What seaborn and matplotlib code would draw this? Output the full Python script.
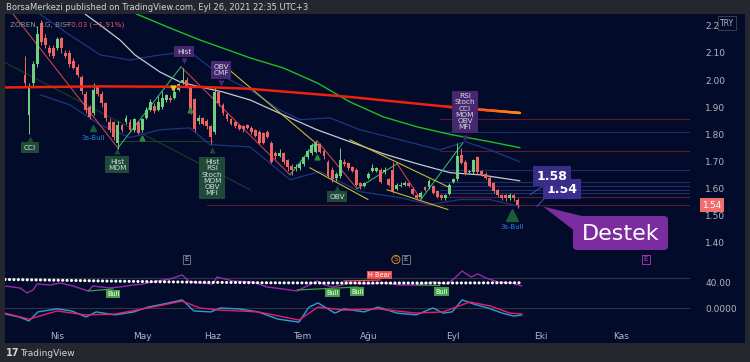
import numpy as np
import pandas as pd
import matplotlib
matplotlib.use("Agg")
import matplotlib.pyplot as plt
import seaborn as sns
from matplotlib.patches import Rectangle, FancyBboxPatch, Polygon
from matplotlib.collections import LineCollection

# ---------------- data ----------------
opens = [2.02, 1.87, 1.99, 2.06, 2.21, 2.155, 2.12, 2.12, 2.12, 2.155,
         2.10, 2.10, 2.07, 2.05, 2.01, 1.95, 1.90, 1.88, 1.975, 1.95,
         1.915, 1.845, 1.845, 1.77, 1.835, 1.845, 1.845, 1.815, 1.845, 1.815,
         1.86, 1.89, 1.905, 1.89, 1.90, 1.925, 1.935, 1.935, 1.965, 1.99,
         2.00, 1.97, 1.93, 1.85, 1.86, 1.85, 1.83, 1.81, 1.955, 1.91,
         1.875, 1.855, 1.845, 1.835, 1.83, 1.835, 1.825, 1.815, 1.81, 1.805,
         1.81, 1.77, 1.73, 1.72, 1.73, 1.705, 1.685, 1.675, 1.675, 1.69,
         1.715, 1.73, 1.735, 1.765, 1.74, 1.70, 1.67, 1.64, 1.645, 1.70,
         1.695, 1.68, 1.67, 1.62, 1.61, 1.64, 1.665, 1.665, 1.67, 1.66,
         1.635, 1.67, 1.60, 1.61, 1.615, 1.62, 1.60, 1.575, 1.57, 1.605,
         1.605, 1.61, 1.59, 1.575, 1.565, 1.58, 1.625, 1.635, 1.725, 1.70,
         1.66, 1.66, 1.715, 1.665, 1.655, 1.64, 1.62, 1.595, 1.575, 1.575,
         1.565, 1.575, 1.56]
closes = [1.99, 1.98, 2.06, 2.17, 2.14, 2.13, 2.10, 2.09, 2.15, 2.12,
          2.09, 2.06, 2.045, 2.02, 1.96, 1.89, 1.865, 1.965, 1.95, 1.915,
          1.86, 1.815, 1.79, 1.835, 1.815, 1.86, 1.815, 1.855, 1.805, 1.855,
          1.89, 1.92, 1.885, 1.92, 1.935, 1.945, 1.925, 1.955, 1.985, 2.00,
          1.975, 1.88, 1.82, 1.86, 1.84, 1.83, 1.79, 1.955, 1.915, 1.88,
          1.855, 1.84, 1.83, 1.82, 1.82, 1.825, 1.81, 1.795, 1.77, 1.77,
          1.79, 1.70, 1.72, 1.73, 1.70, 1.68, 1.67, 1.68, 1.69, 1.715,
          1.74, 1.76, 1.77, 1.735, 1.72, 1.645, 1.635, 1.655, 1.705, 1.69,
          1.675, 1.665, 1.615, 1.61, 1.62, 1.655, 1.675, 1.675, 1.625, 1.67,
          1.615, 1.59, 1.615, 1.615, 1.62, 1.61, 1.58, 1.565, 1.585, 1.595,
          1.63, 1.585, 1.57, 1.565, 1.575, 1.615, 1.635, 1.72, 1.695, 1.655,
          1.665, 1.705, 1.66, 1.65, 1.64, 1.61, 1.59, 1.575, 1.565, 1.565,
          1.575, 1.565, 1.54]
highs = [2.09, 1.99, 2.07, 2.20, 2.22, 2.17, 2.13, 2.13, 2.16, 2.16,
         2.11, 2.11, 2.08, 2.06, 2.02, 1.96, 1.91, 1.99, 1.98, 1.96,
         1.92, 1.86, 1.85, 1.85, 1.84, 1.87, 1.855, 1.86, 1.85, 1.86,
         1.90, 1.93, 1.915, 1.94, 1.96, 1.95, 1.945, 1.965, 1.99, 2.045,
         2.01, 1.975, 1.935, 1.87, 1.865, 1.855, 1.835, 1.975, 1.96, 1.915,
         1.88, 1.86, 1.85, 1.84, 1.835, 1.84, 1.83, 1.82, 1.815, 1.81,
         1.815, 1.775, 1.74, 1.745, 1.735, 1.71, 1.69, 1.69, 1.70, 1.72,
         1.745, 1.77, 1.775, 1.77, 1.745, 1.705, 1.68, 1.66, 1.75, 1.71,
         1.70, 1.685, 1.675, 1.625, 1.625, 1.66, 1.69, 1.68, 1.675, 1.68,
         1.64, 1.70, 1.62, 1.625, 1.63, 1.625, 1.605, 1.58, 1.59, 1.61,
         1.635, 1.615, 1.595, 1.58, 1.58, 1.62, 1.64, 1.77, 1.75, 1.705,
         1.67, 1.71, 1.72, 1.67, 1.66, 1.645, 1.625, 1.60, 1.58, 1.58,
         1.585, 1.58, 1.565]
lows = [1.98, 1.80, 1.98, 2.05, 2.13, 2.12, 2.09, 2.08, 2.11, 2.10,
        2.08, 2.05, 2.04, 2.01, 1.95, 1.88, 1.855, 1.87, 1.94, 1.90,
        1.85, 1.81, 1.78, 1.745, 1.81, 1.84, 1.81, 1.81, 1.80, 1.81,
        1.855, 1.885, 1.88, 1.885, 1.895, 1.92, 1.92, 1.93, 1.96, 1.985,
        1.97, 1.875, 1.81, 1.84, 1.835, 1.82, 1.765, 1.80, 1.905, 1.87,
        1.85, 1.835, 1.825, 1.815, 1.81, 1.82, 1.80, 1.79, 1.765, 1.765,
        1.785, 1.695, 1.71, 1.715, 1.69, 1.665, 1.65, 1.665, 1.67, 1.685,
        1.71, 1.725, 1.73, 1.73, 1.71, 1.64, 1.625, 1.63, 1.64, 1.685,
        1.67, 1.66, 1.61, 1.60, 1.605, 1.635, 1.66, 1.66, 1.62, 1.655,
        1.61, 1.585, 1.595, 1.605, 1.61, 1.605, 1.575, 1.56, 1.565, 1.59,
        1.60, 1.58, 1.565, 1.56, 1.56, 1.575, 1.62, 1.63, 1.69, 1.65,
        1.655, 1.655, 1.655, 1.645, 1.635, 1.605, 1.585, 1.57, 1.56, 1.555,
        1.56, 1.555, 1.53]

# moving averages / bands (bar index, price)
ma_red_x = [-5, 18.6, 43.3, 55.7, 80.4, 105.2, 122.5]
ma_red_y = [1.973, 1.977, 1.975, 1.968, 1.938, 1.901, 1.879]
ma_green_x = [25.0, 27.7, 35.9, 43.3, 55.7, 63.9, 72.3, 80.4, 88.6, 97.0, 105.2, 115.1, 122.5]
ma_green_y = [2.27, 2.243, 2.192, 2.148, 2.082, 2.045, 1.990, 1.920, 1.865, 1.828, 1.800, 1.773, 1.751]
ma_white_x = [14.9, 18.6, 23.5, 27.2, 33.4, 38.4, 43.3, 48.8, 55.7, 63.9, 72.3, 80.4, 88.6, 97.0, 105.2, 112.6, 122.5]
ma_white_y = [2.243, 2.203, 2.148, 2.093, 2.030, 1.993, 1.975, 1.957, 1.927, 1.872, 1.817, 1.773, 1.729, 1.692, 1.659, 1.651, 1.629]
band_x = [3.7, 11.1, 18.6, 26.0, 33.4, 40.8, 48.3, 55.7, 63.1, 68.1, 75.5, 82.9, 92.8, 102.7, 108.9, 115.1, 122.5]
band_up = [2.243, 2.166, 2.093, 2.074, 2.093, 2.104, 2.019, 1.964, 1.890, 1.854, 1.861, 1.817, 1.780, 1.743, 1.773, 1.743, 1.699]
band_lo_x = [3.7, 11.1, 18.6, 26.0, 33.4, 40.8, 45.8, 55.7, 65.6, 73.0, 82.9, 92.8, 100.2, 107.7, 115.1, 122.5]
band_lo = [1.946, 1.909, 1.835, 1.788, 1.817, 1.824, 1.762, 1.754, 1.633, 1.663, 1.589, 1.567, 1.541, 1.560, 1.560, 1.534]

# zigzag pivots
zz_x = [-3.0, 23.0, 38.6, 65.6, 72.3, 82.2, 92.1, 98.0, 108.4]
zz_y = [2.245, 1.750, 2.049, 1.651, 1.776, 1.600, 1.692, 1.560, 1.769]
# yellow and faint trend lines (x0, y0, x1, y1)
yel_lines = [(50.0, 2.045, 72.5, 1.761), (80.4, 1.780, 104.7, 1.607),
             (70.5, 1.677, 84.9, 1.560), (89.6, 1.596, 104.7, 1.523)]
faint_lines = [(-5.0, 2.065, 55.7, 1.596), (23.0, 1.776, 46.5, 1.776)]
# horizontal levels on the right
lvl_blue = [1.810, 1.670, 1.626, 1.611, 1.596, 1.585]
lvl_red = [1.857, 1.740, 1.571]
support = 1.541

# oscillator pane
rsi_x = [-4.95, -1.2, 0.5, 2.0, 3.0, 6.2, 8.7, 11.9, 15.6, 16.8, 21.0, 23.5, 26.7, 29.2, 32.7, 35.9,
         38.9, 40.8, 43.3, 46.5, 47.5, 51.5, 56.4, 59.9, 63.9, 67.3, 69.8, 72.3, 74.3, 76.2, 80.4,
         84.7, 88.6, 92.8, 96.8, 101.0, 104.5, 106.4, 108.2, 110.4, 112.1, 114.1, 117.1, 120.5, 123.0]
rsi_v = [34, 30, 20, 26, 38, 36, 40, 34, 24, 34, 30, 32, 36, 38, 44, 48,
         56, 42, 40, 38, 52, 44, 42, 32, 28, 24, 34, 44, 36, 32, 40,
         38, 40, 36, 36, 42, 38, 50, 64, 52, 58, 50, 42, 40, 34]
sig_x = [-4.95, 8.7, 23.5, 43.3, 58.2, 75.5, 102.7, 123.0]
sig_v = [47, 45.5, 43.5, 41.5, 40.5, 40, 40, 40.5]

# MACD pane
macd_x = [-4.95, -1.5, 1.0, 3.2, 7.9, 11.6, 15.1, 17.6, 22.3, 27.0, 30.4, 34.2, 38.9, 41.8, 46.0,
          48.3, 53.0, 57.7, 62.6, 67.8, 70.3, 72.5, 76.7, 79.0, 83.9, 87.4, 92.1, 96.8, 101.0,
          103.5, 105.7, 108.2, 111.1, 114.6, 118.1, 121.0, 123.0]
macd_v = [-0.020, -0.030, -0.043, -0.013, -0.003, -0.010, -0.030, -0.013, -0.023, -0.013, 0.003,
          0.013, 0.027, -0.010, -0.013, 0.0, -0.003, -0.013, -0.037, -0.047, 0.003, 0.017, -0.017,
          -0.003, -0.013, 0.003, -0.017, -0.023, 0.0, -0.017, -0.013, 0.027, 0.013, 0.0, -0.017,
          -0.027, -0.023]
sigl_x = [-4.95, 1.0, 7.9, 15.1, 22.3, 30.4, 38.9, 43.3, 48.3, 57.7, 67.8, 72.5, 79.0, 87.4, 96.8,
          103.5, 110.1, 115.1, 120.0, 123.0]
sigl_v = [-0.017, -0.037, -0.010, -0.023, -0.020, 0.0, 0.023, 0.0, -0.007, -0.013, -0.040, 0.003,
          -0.007, -0.003, -0.017, -0.013, 0.020, 0.007, -0.017, -0.020]

month_pos = [7.9, 29.0, 46.5, 68.6, 85.1, 105.9, 127.7, 147.5]
month_lbl = ["Nis", "May", "Haz", "Tem", "Ağu", "Eyl", "Eki", "Kas"]
price_ticks = [1.40, 1.50, 1.60, 1.70, 1.80, 1.90, 2.00, 2.10, 2.20]

# ---------------- style ----------------
sns.set_theme(style="dark")
plt.rcParams["font.family"] = ["DejaVu Sans"]
NAVY = "#020b2a"
FRAME = "#25272e"
TXT = "#b2b5be"
UP = "#6fcf7e"
DN = "#ef6461"

W, H = 750, 362
fig = plt.figure(figsize=(7.5, 3.62), dpi=100, facecolor=FRAME)
fig.patches.append(Rectangle((5 / W, 1 - 343 / H), 740 / W, 329 / H, transform=fig.transFigure,
                             fc=NAVY, ec="none", zorder=-10))

def pane(top, bottom):
    a = fig.add_axes([5 / W, 1 - bottom / H, 685 / W, (bottom - top) / H])
    a.set_facecolor("none")
    for s in a.spines.values():
        s.set_visible(False)
    a.grid(False)
    a.set_xlim(-4.95, 164.6)
    return a

ax = pane(14, 266)
axr = pane(266, 296)
axm = pane(296, 326)

# ---------------- main pane ----------------
ax.set_ylim(1.315, 2.2437)
n = len(closes)
bars = np.arange(n)
o = np.array(opens); c = np.array(closes)
cols = [UP if cc >= oo else DN for oo, cc in zip(o, c)]
ax.vlines(bars, lows, highs, colors=cols, lw=0.7, zorder=5)
ax.bar(bars, np.maximum(np.abs(c - o), 0.003), bottom=np.minimum(o, c), width=0.72,
       color=cols, zorder=5, linewidth=0)

def sline(a, xs, ys, color, lw, z=3, ls="-"):
    df = pd.DataFrame({"x": xs, "y": ys})
    sns.lineplot(data=df, x="x", y="y", ax=a, color=color, linewidth=lw, estimator=None,
                 sort=False, zorder=z, linestyle=ls, legend=False)

for x0, y0, x1, y1 in faint_lines:
    ax.plot([x0, x1], [y0, y1], color="#1e3d2a", lw=0.8, zorder=1)
sline(ax, band_x, band_up, "#1c3680", 0.9, 2)
sline(ax, band_lo_x, band_lo, "#1c3680", 0.9, 2)
sline(ax, ma_white_x, ma_white_y, "#c8c9d0", 0.9, 3)
sline(ax, ma_green_x, ma_green_y, "#1fbf1f", 1.0, 3)
# red MA (solid) with an orange tint at its right end
sline(ax, ma_red_x, ma_red_y, "#ee2010", 1.8, 6)
rx = np.linspace(104, ma_red_x[-1], 40)
ry = np.interp(rx, ma_red_x, ma_red_y)
pts = np.array([rx, ry]).T.reshape(-1, 1, 2)
segs = np.concatenate([pts[:-1], pts[1:]], axis=1)
t = np.linspace(0, 1, len(segs))
red = np.array([0.93, 0.13, 0.06]); org = np.array([1.0, 0.55, 0.1])
ax.add_collection(LineCollection(segs, colors=[red * (1 - k) + org * k for k in t], lw=1.8,
                                 capstyle="round", zorder=6.5))

# zigzag
for i in range(len(zz_x) - 1):
    col = "#2bb36e" if zz_y[i + 1] > zz_y[i] else "#c9404c"
    ax.plot(zz_x[i:i + 2], zz_y[i:i + 2], color=col, lw=0.8, zorder=4)
for x0, y0, x1, y1 in yel_lines:
    ax.plot([x0, x1], [y0, y1], color="#c9b92c", lw=0.8, zorder=4)
for lv in lvl_blue:
    ax.plot([102.7, 164.6], [lv, lv], color="#1f2f6a", lw=0.8, zorder=1)
for lv in lvl_red:
    ax.plot([102.7, 164.6], [lv, lv], color="#5a1b33", lw=0.8, zorder=1)
ax.plot([45, 164.6], [support, support], color="#5a1b33", lw=0.8, zorder=1)

# signal labels
GBOX = "#1f4a37"; PBOX = "#47286f"
def tag(xb, yp, txt, fc, px, py, mk):
    ax.text(xb, yp, txt, ha="center", va="center", fontsize=5.3, color="#d6dae2",
            linespacing=1.05, zorder=8,
            bbox=dict(boxstyle="square,pad=0.35", fc=fc, ec="none"))
    ax.plot([px], [py], marker=mk, ms=4.5, color=fc, zorder=8, mec="none")

tag(1.24, 1.751, "CCI", GBOX, 1.24, 1.782, "^")
tag(22.8, 1.688, "Hist\nMOM", GBOX, 22.8, 1.738, "^")
tag(39.4, 2.104, "Hist", PBOX, 39.4, 2.069, "v")
tag(48.5, 2.037, "OBV\nCMF", PBOX, 48.5, 1.989, "v")
tag(46.3, 1.640, "Hist\nRSI\nStoch\nMOM\nOBV\nMFI", GBOX, 46.3, 1.741, "^")
tag(77.2, 1.571, "OBV", GBOX, 77.2, 1.602, "^")
tag(108.9, 1.883, "RSI\nStoch\nCCI\nMOM\nOBV\nMFI", PBOX, 108.9, 1.786, "v")

ax.plot([16.8], [1.822], marker="^", ms=5, color="#1c5a3c", zorder=7)
ax.text(16.8, 1.787, "3s-Bull", color="#2f7fd9", fontsize=5, ha="center", va="center", zorder=8)
ax.plot([120.5], [1.504], marker="^", ms=8, color="#1c5a3c", zorder=7)
ax.text(120.5, 1.457, "3s-Bull", color="#2f7fd9", fontsize=5, ha="center", va="center", zorder=8)
ax.plot([29.0, 40.8, 72.3], [1.787, 1.890, 1.718], ls="none", marker="^", ms=3.5, color="#2e8b3e", zorder=7)
ax.plot([36.6], [1.971], marker="v", ms=3.5, color="#e8c21e", zorder=7)

# price boxes (1.54 drawn first so that 1.58 stays readable)
ax.text(132.9, 1.597, "1.54", ha="center", va="center", fontsize=9, fontweight="bold",
        color="white", zorder=9, bbox=dict(boxstyle="square,pad=0.28", fc="#3d2f90", ec="none"))
ax.text(130.4, 1.646, "1.58", ha="center", va="center", fontsize=9, fontweight="bold",
        color="white", zorder=10, bbox=dict(boxstyle="square,pad=0.28", fc="#3a2d88", ec="none"))
ax.plot([128.0, 125.0], [1.607, 1.578], color="#3b4fa0", lw=0.8, zorder=8)
ax.plot([128.7, 126.7], [1.567, 1.534], color="#3b4fa0", lw=0.8, zorder=8)

# E / S markers
def emark(xb, s, col, ec, style="square,pad=0.2"):
    ax.text(xb, 1.339, s, ha="center", va="center", fontsize=5, color=col, zorder=8,
            bbox=dict(boxstyle=style, fc=NAVY, ec=ec, lw=0.7))
emark(39.9, "E", TXT, "#6f727c")
emark(91.8, "S", "#e08a2a", "#e08a2a", "circle,pad=0.15")
emark(94.3, "E", TXT, "#6f727c")
emark(153.7, "E", "#c03ad0", "#a82ac0")

# price axis
ax.yaxis.tick_right()
ax.set_yticks(price_ticks)
ax.set_yticklabels([f"{v:.2f}" for v in price_ticks])
ax.tick_params(axis="y", length=0, pad=11, labelsize=6.5, labelcolor=TXT)
ax.set_xticks([])
ax.set_xlabel(""); ax.set_ylabel("")

# ---------------- RSI pane ----------------
axr.set_ylim(14, 74)
axr.axhline(50, color="#30343f", lw=0.8, zorder=1)
sline(axr, rsi_x, rsi_v, "#9b27b0", 1.0, 3)
axr.plot(sig_x, sig_v, color="white", lw=2.2, linestyle=(0, (0.05, 1.4)),
         dash_capstyle="round", zorder=4)
for xs, vs in [([15.6, 21.8], [24, 28]), ([67.3, 82.2], [26, 32]), ([96.8, 102.7], [36, 35])]:
    axr.plot(xs, vs, color="#3da043", lw=0.9, zorder=3)
axr.plot([78.9, 87.9], [44, 46], color="#f04e4e", lw=0.9, zorder=3)
for xb, v in [(21.8, 18), (76.2, 20), (82.2, 23), (103.0, 23)]:
    axr.text(xb, v, "Bull", fontsize=4.8, color="white", ha="center", va="center", zorder=6,
             clip_on=False, bbox=dict(boxstyle="square,pad=0.18", fc="#43a047", ec="none"))
axr.text(87.7, 56, "H Bear", fontsize=4.8, color="white", ha="center", va="center", zorder=6,
         bbox=dict(boxstyle="square,pad=0.18", fc="#f04e4e", ec="none"))
axr.yaxis.tick_right()
axr.set_yticks([40]); axr.set_yticklabels(["40.00"])
axr.tick_params(axis="y", length=0, pad=11, labelsize=6.5, labelcolor=TXT)
axr.set_xticks([]); axr.set_xlabel(""); axr.set_ylabel("")

# ---------------- MACD pane ----------------
axm.set_ylim(-0.06, 0.04)
axm.axhline(0, color="#30343f", lw=0.8, zorder=1)
sline(axm, macd_x, macd_v, "#2a9fd8", 1.0, 3)
sline(axm, sigl_x, sigl_v, "#ec1c6a", 1.0, 4)
axm.yaxis.tick_right()
axm.set_yticks([0]); axm.set_yticklabels(["0.0000"])
axm.tick_params(axis="y", length=0, pad=11, labelsize=6.5, labelcolor=TXT)
axm.set_xticks(month_pos); axm.set_xticklabels(month_lbl)
axm.tick_params(axis="x", length=0, pad=4, labelsize=6.5, labelcolor=TXT)
axm.set_xlabel(""); axm.set_ylabel("")

# ---------------- figure-level decorations ----------------
fig.text(6 / W, 1 - 7 / H, "BorsaMerkezi published on TradingView.com, Eyl 26, 2021 22:35 UTC+3",
         fontsize=6, color="#d1d4dc", va="center", ha="left")
fig.text(10 / W, 1 - 25 / H, "ZOREN, 1G, BIST", fontsize=5.2, color="#8e919a", va="center")
fig.text(65 / W, 1 - 25 / H, "−0.03 (−1.91%)", fontsize=5.2, color="#f05060", va="center")
fig.text(6 / W, 1 - 353 / H, "17", fontsize=7, fontweight="heavy", color="#d1d4dc", va="center")
fig.text(20 / W, 1 - 353 / H, "TradingView", fontsize=6.5, color="#d1d4dc", va="center")
fig.text(712 / W, 1 - 205 / H, "1.54", fontsize=6.3, color="white", ha="center", va="center",
         bbox=dict(boxstyle="square,pad=0.25", fc="#ef6f6f", ec="none"))
fig.text(727 / W, 1 - 23 / H, "TRY", fontsize=5.5, color=TXT, ha="center", va="center",
         bbox=dict(boxstyle="square,pad=0.3", fc=NAVY, ec="#3a3e4a", lw=0.7))

# Destek callout (inches)
tr = fig.dpi_scale_trans
fig.patches.append(Polygon([(5.43, 1.555), (5.86, 1.45), (5.76, 1.30)], closed=True,
                           fc="#7b2d9f", ec="none", transform=tr, zorder=10))
fig.patches.append(FancyBboxPatch((5.73, 1.12), 0.95, 0.34,
                                  boxstyle="round,pad=0,rounding_size=0.04",
                                  fc="#7b2d9f", ec="none", transform=tr, zorder=10))
fig.text(6.205, 1.285, "Destek", fontsize=16, color="white", ha="center", va="center",
         transform=tr, zorder=11)

fig.savefig("out.png", dpi=100, facecolor=FRAME)
